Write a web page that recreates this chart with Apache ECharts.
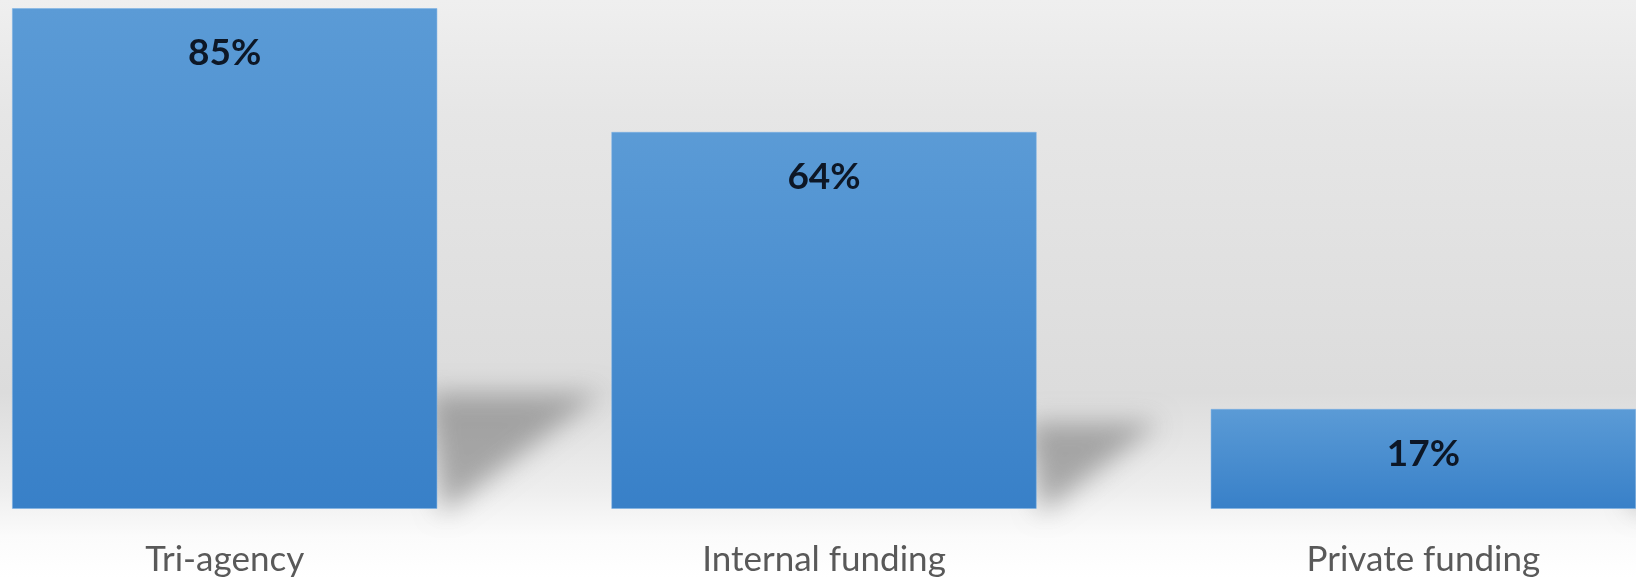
<!DOCTYPE html>
<html>
<head>
<meta charset="utf-8">
<script src="https://cdn.jsdelivr.net/npm/echarts@6/dist/echarts.min.js"></script>
<style>
html,body{margin:0;padding:0;}
body{width:1636px;height:577px;overflow:hidden;position:relative;
background:linear-gradient(to bottom,#efefef 0%,#e6e6e6 20%,#dcdcdc 68%,#eeeeee 85%,#fbfbfb 93%,#ffffff 100%);}
#chart{position:absolute;left:-75px;top:0;width:1798px;height:577px;}
</style>
</head>
<body>
<div id="chart"></div>
<script>
const categories = ['Tri-agency', 'Internal funding', 'Private funding'];
const values = [85, 64, 17];

const chart = echarts.init(document.getElementById('chart'), null, {renderer: 'canvas'});
const barGap = 0.29;

chart.setOption({
  backgroundColor: 'transparent',
  animation: false,
  grid: {left: 0, right: 0, top: 8, bottom: 68, containLabel: false},
  xAxis: {
    type: 'category',
    data: categories,
    axisLine: {show: false},
    axisTick: {show: false},
    axisLabel: {
      color: '#595959', fontFamily: 'Lato', fontSize: 35, margin: 33,
      verticalAlign: 'top'
    }
  },
  yAxis: {type: 'value', min: 0, max: 85, show: false, splitLine: {show: false}},
  series: [
    {
      type: 'custom',
      z: 1,
      silent: true,
      data: values.map((v, i) => [i, v]),
      renderItem: function (params, api) {
        const top = api.coord([api.value(0), api.value(1)]);
        const base = api.coord([api.value(0), 0]);
        const band = api.size([1, 0])[0];
        const bw = band * (1 - barGap);
        const xr = top[0] + bw / 2;
        const yb = base[1];
        const h = (yb - top[1]) * 0.23;
        const w = h * 1.42;
        const off = 3000;
        return {
          type: 'polygon',
          shape: {points: [[xr - 10 - off, yb - h], [xr + w - off, yb - h], [xr + 5 - off, yb + 4]]},
          style: {
            fill: '#a0a0a0',
            shadowColor: 'rgba(120,120,120,0.6)',
            shadowBlur: 26,
            shadowOffsetX: off,
            shadowOffsetY: 0
          }
        };
      }
    },
    {
      type: 'bar',
      z: 2,
      data: values,
      barCategoryGap: '29%',
      itemStyle: {
        color: new echarts.graphic.LinearGradient(0, 0, 0, 1, [
          {offset: 0, color: '#5b9bd6'},
          {offset: 1, color: '#3880c8'}
        ]),
        borderColor: 'rgba(120,175,230,0.5)',
        borderWidth: 1
      },
      label: {
        show: true,
        position: 'insideTop',
        distance: 27,
        formatter: '{c}%',
        fontFamily: 'Lato',
        fontWeight: 'bold',
        fontSize: 37,
        lineHeight: 37,
        color: '#0d1726'
      }
    }
  ]
});
</script>
</body>
</html>
